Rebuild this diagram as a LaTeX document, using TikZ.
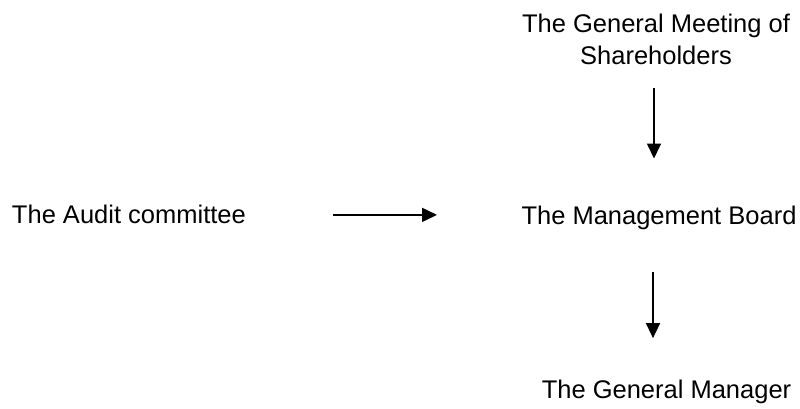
\documentclass[tikz,border=0pt]{standalone}
\usepackage{fontspec}
\setmainfont{Liberation Sans}
\usetikzlibrary{arrows.meta}
\begin{document}
\begin{tikzpicture}[x=1pt,y=-1pt,
  lbl/.style={inner sep=0pt,outer sep=0pt,font=\fontsize{25.5}{30}\selectfont},
  arr/.style={line width=1.6pt,-{Triangle[length=15pt,width=14pt]}}]
\useasboundingbox (0,0) rectangle (800,409);
\node[lbl,anchor=base] (meet1) at (656,33) {The General Meeting of};
\node[lbl,anchor=base] (meet2) at (656,65) {Shareholders};
\node[lbl,anchor=base] (board) at (659,224) {The Management Board};
\node[lbl,anchor=base west] (audit) at (12,223) {The Audit committee};
\node[lbl,anchor=base] (manager) at (666.5,398) {The General Manager};
\draw[arr] ([xshift=-2pt,yshift=-23pt]meet2.south) -- ([xshift=-5pt,yshift=47pt]board.north);
\draw[arr] ([xshift=-6pt,yshift=-42.6pt]board.south) -- ([xshift=-13.5pt,yshift=41.4pt]manager.north);
\draw[arr] ([xshift=87pt,yshift=-1pt]audit.east) -- ([xshift=-84.5pt,yshift=-1pt]board.west |- audit.east);
\end{tikzpicture}
\end{document}
